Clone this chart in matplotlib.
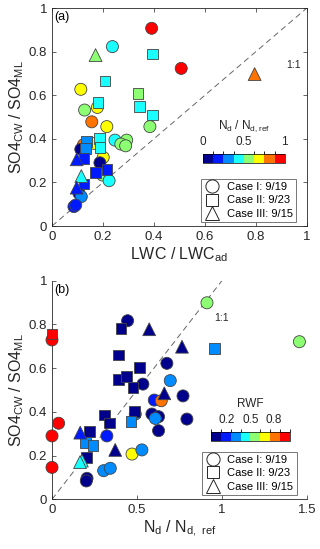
import numpy as np
import matplotlib
matplotlib.use('Agg')
import matplotlib.pyplot as plt
from matplotlib.colors import ListedColormap, BoundaryNorm
from matplotlib.lines import Line2D

plt.rcParams['font.family'] = ['Liberation Sans', 'DejaVu Sans']

# panel (a): LWC/LWCad vs SO4 ratio, colour = Nd/Nd,ref
a_circ_x = [0.391, 0.507, 0.237, 0.113, 0.178, 0.128, 0.156, 0.215, 0.384, 0.247, 0.293, 0.270,
            0.289, 0.123, 0.165, 0.113, 0.201, 0.188, 0.198, 0.224, 0.106, 0.115, 0.086, 0.093]
a_circ_y = [0.907, 0.723, 0.823, 0.627, 0.544, 0.532, 0.478, 0.456, 0.456, 0.394, 0.394, 0.376,
            0.368, 0.372, 0.379, 0.352, 0.315, 0.290, 0.234, 0.208, 0.150, 0.135, 0.089, 0.096]
a_circ_c = [0.94, 0.94, 0.44, 0.69, 0.69, 0.56, 0.81, 0.69, 0.56, 0.44, 0.56, 0.56,
            0.56, 0.81, 0.69, 0.06, 0.69, 0.06, 0.56, 0.44, 0.06, 0.31, 0.19, 0.19]
a_sq_x = [0.394, 0.208, 0.337, 0.180, 0.344, 0.394, 0.187, 0.136, 0.132, 0.188, 0.125, 0.171, 0.215, 0.126]
a_sq_y = [0.789, 0.665, 0.609, 0.567, 0.547, 0.509, 0.402, 0.387, 0.356, 0.361, 0.310, 0.246, 0.260, 0.193]
a_sq_c = [0.44, 0.44, 0.56, 0.44, 0.44, 0.44, 0.44, 0.31, 0.31, 0.44, 0.19, 0.19, 0.19, 0.19]
a_tri_x = [0.171, 0.795, 0.097, 0.115, 0.097]
a_tri_y = [0.784, 0.697, 0.306, 0.229, 0.176]
a_tri_c = [0.56, 0.81, 0.19, 0.44, 0.19]

# panel (b): Nd/Nd,ref vs SO4 ratio, colour = RWF
b_circ_x = [0.912, 1.456, 0.0, 0.039, 0.0, 0.0, 0.445, 0.676, 0.535, 0.696, 0.602, 0.643, 0.771,
            0.490, 0.588, 0.627, 0.608, 0.627, 0.794, 0.323, 0.471, 0.529, 0.304, 0.343, 0.206, 0.202]
b_circ_y = [0.899, 0.721, 0.729, 0.348, 0.290, 0.146, 0.817, 0.622, 0.527, 0.543, 0.454, 0.451, 0.473,
            0.390, 0.390, 0.378, 0.370, 0.314, 0.367, 0.290, 0.207, 0.226, 0.131, 0.142, 0.096, 0.084]
b_circ_c = [0.56, 0.56, 0.94, 0.94, 0.94, 0.94, 0.06, 0.06, 0.06, 0.31, 0.19, 0.81, 0.06,
            0.31, 0.06, 0.06, 0.31, 0.06, 0.06, 0.19, 0.69, 0.31, 0.31, 0.31, 0.06, 0.06]
b_sq_x = [0.0, 0.406, 0.392, 0.514, 0.392, 0.437, 0.476, 0.308, 0.339, 0.484, 0.465, 0.955, 0.221, 0.196, 0.241, 0.202]
b_sq_y = [0.756, 0.782, 0.660, 0.604, 0.549, 0.561, 0.512, 0.386, 0.350, 0.401, 0.355, 0.691, 0.309, 0.261, 0.245, 0.190]
b_sq_c = [0.94, 0.06, 0.06, 0.06, 0.06, 0.06, 0.06, 0.06, 0.06, 0.06, 0.31, 0.31, 0.06, 0.31, 0.31, 0.06]
b_tri_x = [0.572, 0.765, 0.661, 0.166, 0.372, 0.176, 0.165]
b_tri_y = [0.778, 0.698, 0.485, 0.305, 0.226, 0.177, 0.170]
b_tri_c = [0.06, 0.06, 0.06, 0.19, 0.06, 0.44, 0.44]

case_labels = ['Case I: 9/19', 'Case II: 9/23', 'Case III: 9/15']

cols = [(0, 0, 0.55), (0, 0.1, 1), (0, 0.55, 1), (0.1, 1, 1),
        (0.55, 1, 0.45), (1, 1, 0), (1, 0.45, 0), (1, 0, 0)]
cmap = ListedColormap(cols)
norm = BoundaryNorm(np.linspace(0, 1, 9), 8)

fig = plt.figure(figsize=(3.2, 5.49), dpi=100)
ax1 = fig.add_axes([0.1625, 0.5883, 0.7965, 0.3971])
ax2 = fig.add_axes([0.1625, 0.0905, 0.7965, 0.3982])

edge = '#444444'
kw = dict(cmap=cmap, norm=norm, edgecolors=edge, linewidths=0.6, clip_on=False, zorder=3)


def draw(ax, cx, cy, cc, sx, sy, sc, tx, ty, tc):
    ax.scatter(cx, cy, c=cc, marker='o', s=75, **kw)
    ax.scatter(sx, sy, c=sc, marker='s', s=58, **kw)
    ax.scatter(tx, ty, c=tc, marker='^', s=85, **kw)
    ax.plot([0, 1], [0, 1], '--', color='#666666', lw=0.7, dashes=(6, 4), zorder=1)


draw(ax1, a_circ_x, a_circ_y, a_circ_c, a_sq_x, a_sq_y, a_sq_c, a_tri_x, a_tri_y, a_tri_c)
draw(ax2, b_circ_x, b_circ_y, b_circ_c, b_sq_x, b_sq_y, b_sq_c, b_tri_x, b_tri_y, b_tri_c)

ax1.set_xlim(0, 1)
ax1.set_ylim(0, 1)
ax1.set_xticks([0, 0.2, 0.4, 0.6, 0.8, 1])
ax1.set_xticklabels(['0', '0.2', '0.4', '0.6', '0.8', '1'])
ax1.set_yticks([0, 0.2, 0.4, 0.6, 0.8, 1])
ax1.set_yticklabels(['0', '0.2', '0.4', '0.6', '0.8', '1'])
ax1.tick_params(direction='in', length=3, width=0.5, top=True, right=True, labelsize=9.5, colors='#262626')
for s in ax1.spines.values():
    s.set_linewidth(0.6)
    s.set_color('#262626')
ax1.set_xlabel('LWC / LWC$_\\mathregular{ad}$', fontsize=11.5, labelpad=2, color='#262626')
ax1.set_ylabel('SO4$_\\mathregular{CW}$ / SO4$_\\mathregular{ML}$', fontsize=11.5, labelpad=2, color='#262626')
ax1.text(0.01, 0.985, '(a)', transform=ax1.transAxes, fontsize=9, va='top', ha='left')
ax1.text(0.948, 0.739, '1:1', fontsize=7.5, ha='center', va='center', color='#262626')

ax2.set_xlim(0, 1.5)
ax2.set_ylim(0, 1)
ax2.set_xticks([0, 0.5, 1, 1.5])
ax2.set_xticklabels(['0', '0.5', '1', '1.5'])
ax2.set_yticks([0, 0.2, 0.4, 0.6, 0.8, 1])
ax2.set_yticklabels(['0', '0.2', '0.4', '0.6', '0.8', '1'])
ax2.tick_params(direction='in', length=3, width=0.5, labelsize=9.5, colors='#262626')
ax2.spines['top'].set_visible(False)
ax2.spines['right'].set_visible(False)
for s in ['left', 'bottom']:
    ax2.spines[s].set_linewidth(0.6)
    ax2.spines[s].set_color('#262626')
ax2.set_xlabel('N$_\\mathregular{d}$ / N$_\\mathregular{d,\\ ref}$', fontsize=11.5, labelpad=2, color='#262626')
ax2.set_ylabel('SO4$_\\mathregular{CW}$ / SO4$_\\mathregular{ML}$', fontsize=11.5, labelpad=2, color='#262626')
ax2.text(0.01, 0.985, '(b)', transform=ax2.transAxes, fontsize=9, va='top', ha='left')
ax2.text(1.0, 0.83, '1:1', fontsize=7.5, ha='center', va='center', color='#262626')

# legends with open symbols
handles = [Line2D([], [], marker=m, ls='none', mfc='none', mec='#262626', mew=0.7, ms=ms)
           for m, ms in [('o', 9.5), ('s', 8.5), ('^', 10.5)]]
for ax, anchor in [(ax1, (0.957, 0.018)), (ax2, (0.96, 0.02))]:
    leg = ax.legend(handles, case_labels, loc='lower right', bbox_to_anchor=anchor, fontsize=8,
                    frameon=True, fancybox=False, edgecolor='#555555', borderpad=0.3,
                    labelspacing=0.3, handletextpad=0.6, handlelength=1.4, borderaxespad=0)
    leg.get_frame().set_linewidth(0.7)

# colorbars
cax1 = fig.add_axes([0.634, 0.703, 0.256, 0.0164])
cb1 = fig.colorbar(plt.cm.ScalarMappable(norm=norm, cmap=cmap), cax=cax1, orientation='horizontal')
cb1.set_ticks([0, 0.5, 1])
cb1.set_ticklabels(['0', '0.5', '1'])
cax1.xaxis.set_ticks_position('top')
cax1.tick_params(length=0, labelsize=8.5, pad=4, colors='#262626')
cb1.outline.set_linewidth(0.5)
cax1.set_title('N$_\\mathregular{d}$ / N$_\\mathregular{d,ref}$', fontsize=8.5, pad=18, color='#262626')

cax2 = fig.add_axes([0.659, 0.1967, 0.247, 0.0164])
cb2 = fig.colorbar(plt.cm.ScalarMappable(norm=norm, cmap=cmap), cax=cax2, orientation='horizontal')
cb2.set_ticks([0.2, 0.5, 0.8])
cb2.set_ticklabels(['0.2', '0.5', '0.8'])
cax2.xaxis.set_ticks_position('top')
cax2.tick_params(length=0, labelsize=8.5, pad=4, colors='#262626')
cb2.outline.set_linewidth(0.5)
cax2.set_title('RWF', fontsize=8.5, pad=18, color='#262626')

fig.savefig('out.png', dpi=100)
